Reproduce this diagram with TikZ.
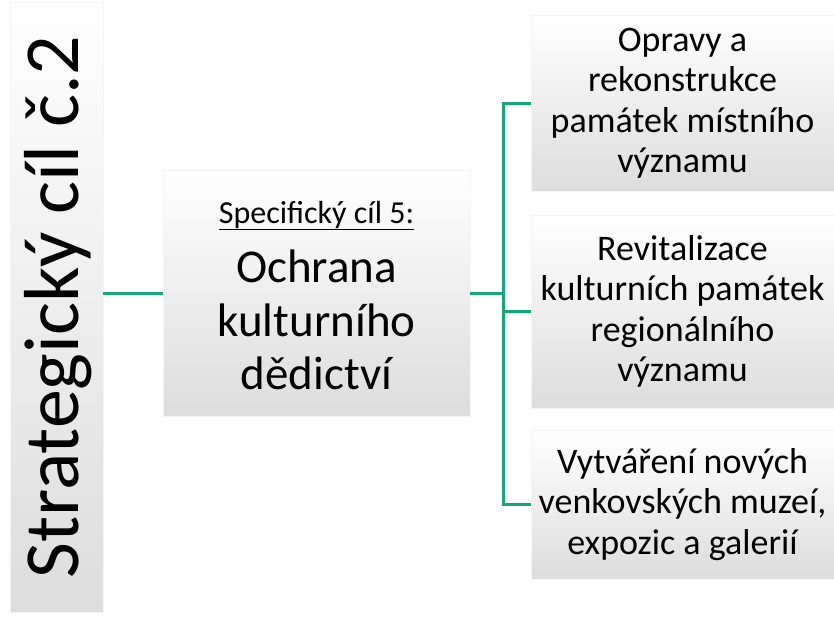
\documentclass[tikz,border=0pt]{standalone}
\usepackage{fontspec}
\setmainfont{Carlito}
\definecolor{linkgreen}{RGB}{22,168,122}
\definecolor{boxgray}{RGB}{221,221,221}
\begin{document}
\begin{tikzpicture}[x=1pt,y=-1pt,
  box/.style={rectangle, inner sep=0pt, draw=black!4, line width=0.6pt,
    top color=white, middle color=black!2, bottom color=boxgray},
  link/.style={draw=linkgreen, line width=3pt},
  rtext/.style={align=center, font=\fontsize{36}{40.5}\selectfont}]
\useasboundingbox (0,0) rectangle (834,625);
% boxes
\node[box, minimum width=93pt, minimum height=610pt] (left) at (56.5,307) {};
\node[box, minimum width=307pt, minimum height=246pt] (center) at (316.5,293) {};
\node[box, rtext, minimum width=303pt, minimum height=176pt] (r1) at (682.5,103)
  {Opravy a\\rekonstrukce\\památek místního\\významu};
\node[box, rtext, minimum width=303pt, minimum height=193pt] (r2) at (682.5,311.5)
  {Revitalizace\\kulturních památek\\regionálního\\významu};
\node[box, rtext, minimum width=303pt, minimum height=149pt] (r3) at (682.5,504.5)
  {Vytváření nových\\venkovských muzeí,\\expozic a galerií};
% texts
\node[rotate=90, anchor=base, font=\fontsize{78}{80}\selectfont] (lt) at (78,307)
  {Strategický cíl č.2};
\node[anchor=base, font=\fontsize{32}{38}\selectfont] (sub) at (316.5,223)
  {\underline{Specifický cíl 5:}};
\node[align=center, font=\fontsize{47}{53.5}\selectfont] (main) at (316.5,320)
  {Ochrana\\kulturního\\dědictví};
% connectors
\coordinate (jn) at (503,296);
\draw[link] (left.east |- center.west) -- (center.west);
\draw[link] (center.east) -- (center.east -| jn);
\draw[link, line cap=rect] (jn |- r1.west) -- (jn |- r3.west);
\draw[link] (jn |- r1.west) -- (r1.west);
\draw[link] (jn |- r2.west) -- (r2.west);
\draw[link] (jn |- r3.west) -- (r3.west);
\end{tikzpicture}
\end{document}
